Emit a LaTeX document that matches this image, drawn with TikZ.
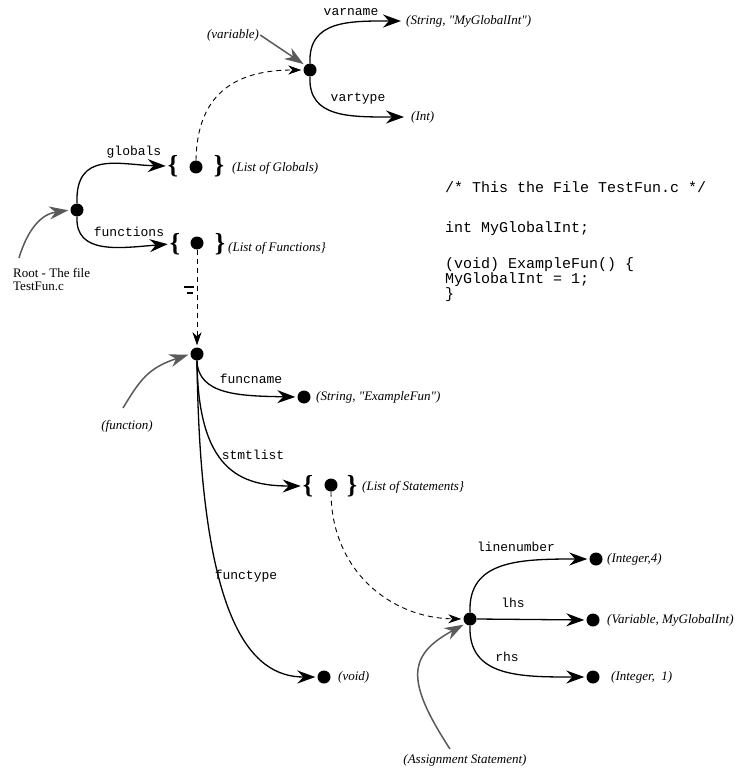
\documentclass[tikz,border=0pt]{standalone}
\usepackage{fontspec}
\setmainfont{Liberation Serif}[Ligatures=TeXOff]
\setmonofont{Liberation Mono}
\usetikzlibrary{arrows.meta}
\definecolor{notegray}{HTML}{5A5A5A}
\tikzset{
  blob/.style={circle, fill=black, inner sep=0pt, minimum size=13pt},
  brc/.style={inner sep=0pt, font=\bfseries\fontsize{26}{26}\selectfont},
  lbl/.style={font=\ttfamily\fontsize{13}{13}\selectfont, inner sep=1pt},
  itl/.style={font=\itshape\fontsize{13}{13}\selectfont, anchor=west, inner sep=0pt},
  conn/.style={line width=1.3pt, shorten >=2pt, -{Stealth[length=18pt,width=13pt,inset=6pt]}},
  dconn/.style={line width=0.9pt, dash pattern=on 5pt off 4pt, shorten >=2pt, -{Stealth[length=13pt,width=9pt,inset=4pt]}},
  note/.style={draw=notegray, line width=1.5pt, shorten >=2pt, -{Stealth[length=19pt,width=13pt,inset=6pt]}},
  code/.style={font=\ttfamily\fontsize{15}{15}\selectfont, anchor=base west, inner sep=0pt}
}
\begin{document}
\begin{tikzpicture}[x=1pt,y=1pt]
\useasboundingbox (0,0) rectangle (735,-770);

% ---------- variable ----------
\node[blob] (var) at (310,-70) {};
\coordinate (vnT) at (403,-21);
\coordinate (vtT) at (406,-117);
\node[itl] (vnx) at (406,-21) {(String, "MyGlobalInt")};
\node[itl] (vtx) at (411,-117) {(Int)};
\draw[conn] (var.north) .. controls (308,-20) and (350,-21) .. (vnT);
\draw[conn] (var.south) .. controls (308,-118) and (350,-117) .. (vtT);
\node[lbl] at (351,-12) {varname};
\node[lbl] at (358,-99) {vartype};
\node[font=\itshape\fontsize{13}{13}\selectfont, inner sep=1pt] (varlab) at (233,-35) {(variable)};
\draw[note] (varlab.east) -- (var.north west);

% ---------- root ----------
\node[blob] (root) at (77,-210) {};
\node[brc] (gl) at (173,-166) {\{};
\node[blob] (gd) at (196,-167) {};
\node[brc] (gr) at (219,-166) {\}};
\node[itl] at (232,-168) {(List of Globals)};
\node[brc] (fl) at (175,-244) {\{};
\node[blob] (fd) at (197,-243) {};
\node[brc] (fr) at (220,-244) {\}};
\node[itl] at (228,-248) {(List of Functions\}};
\draw[conn] (root.north) .. controls (75,-150) and (120,-165) .. (gl.west);
\draw[conn] (root.south) .. controls (75,-255) and (120,-248) .. (fl.west);
\node[lbl] at (134,-152) {globals};
\node[lbl] at (129,-232) {functions};
\node[align=left, anchor=north west, inner sep=0pt, font=\fontsize{13}{13}\selectfont] (rootlab) at (13,-268) {Root - The file\\TestFun.c};
\coordinate (rootS) at (19,-258);
\draw[note] (rootS) .. controls (28,-228) and (42,-214) .. (root.west);

% dashed: globals list -> variable
\draw[dconn] (gd.north) .. controls (197,-90) and (240,-70) .. (var.west);

% small mark
\draw[line width=1.6pt] (184,-287) -- (194,-287);
\draw[line width=1.6pt] (187,-293) -- (193,-293);

% ---------- function ----------
\node[blob] (fun) at (197,-354) {};
\draw[dconn] (fd.south) -- (fun.north);

\node[blob] (fn) at (304,-397) {};
\node[itl] at (316,-397) {(String, "ExampleFun")};
\draw[conn] (fun.south) .. controls (198,-395) and (240,-396) .. (fn.west);
\node[lbl] at (251,-379) {funcname};

\node[brc] (sl) at (308,-486) {\{};
\node[blob] (sd) at (331,-485) {};
\node[brc] (sr) at (352,-486) {\}};
\node[itl] at (362,-487) {(List of Statements\}};
\draw[conn] (fun.south) .. controls (198,-470) and (240,-486) .. (sl.west);
\node[lbl] at (253,-455) {stmtlist};

\node[blob] (vd) at (324,-677) {};
\node[itl] at (338,-677) {(void)};
\draw[conn] (fun.south) .. controls (200,-620) and (250,-677) .. (vd.west);
\node[lbl] at (246,-576) {functype};

\node[font=\itshape\fontsize{13}{13}\selectfont, inner sep=1pt] (funlab) at (127,-426) {(function)};
\coordinate (funS) at (123,-408);
\draw[note] (funS) .. controls (140,-380) and (148,-368) .. (fun.west);

% ---------- assignment ----------
\node[blob] (as) at (470,-619) {};
\draw[dconn] (sd.south) .. controls (331,-570) and (390,-618) .. (as.west);

\node[blob] (ln) at (596,-559) {};
\node[itl] at (607,-559) {(Integer,4)};
\draw[conn] (as.north) .. controls (468,-560) and (520,-559) .. (ln.west);
\node[lbl] at (516,-547) {linenumber};

\node[blob] (lh) at (593,-620) {};
\node[itl] at (607,-620) {(Variable, MyGlobalInt)};
\draw[conn] (as.east) -- (lh.west);
\node[lbl] at (513,-603) {lhs};

\node[blob] (rh) at (593,-677) {};
\node[itl] at (611,-677) {(Integer,\ \ 1)};
\draw[conn] (as.south) .. controls (468,-677) and (520,-677) .. (rh.west);
\node[lbl] at (507,-657) {rhs};

\node[font=\itshape\fontsize{13}{13}\selectfont, inner sep=1pt] (aslab) at (465,-760) {(Assignment Statement)};
\coordinate (asS) at (450,-749);
\draw[note] (asS) .. controls (405,-680) and (408,-655) .. (as.south west);

% ---------- code ----------
\node[code] at (445,-193) {/* This the File TestFun.c */};
\node[code] at (445,-232) {int MyGlobalInt;};
\node[code] at (445,-268) {(void) ExampleFun() \{};
\node[code] at (445,-283) {MyGlobalInt = 1;};
\node[code] at (445,-298) {\}};
\end{tikzpicture}
\end{document}
